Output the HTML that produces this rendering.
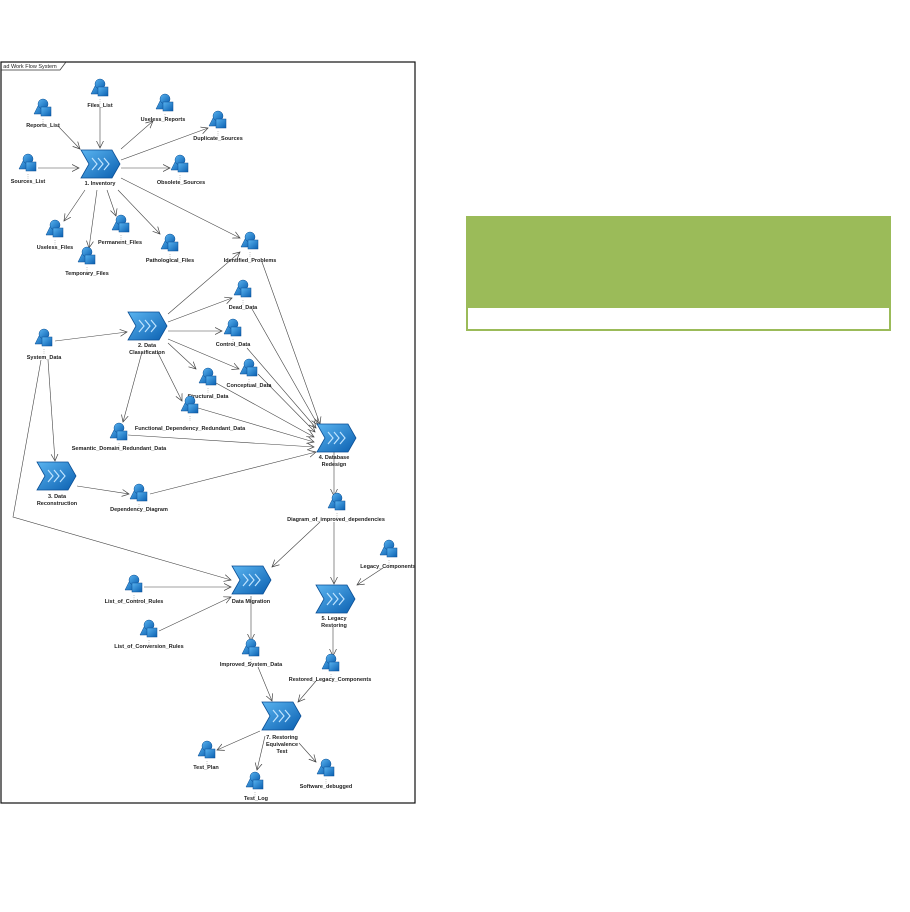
<!DOCTYPE html>
<html><head><meta charset="utf-8"><style>
html,body{margin:0;padding:0;background:#fff;width:910px;height:912px;overflow:hidden}
svg{position:absolute;left:0;top:0}
text{font-family:"Liberation Sans",sans-serif;font-size:5.5px;font-weight:bold;fill:#222;text-anchor:middle}
</style></head><body>
<svg width="910" height="912" viewBox="0 0 910 912">
<defs>
<linearGradient id="bg" x1="0" y1="0" x2="1" y2="1"><stop offset="0" stop-color="#5ab4f0"/><stop offset="1" stop-color="#0a5fb0"/></linearGradient>
<marker id="ar" markerWidth="8" markerHeight="8" refX="7" refY="4" orient="auto" markerUnits="userSpaceOnUse"><path d="M0,0.5 L7,4 L0,7.5" fill="none" stroke="#444" stroke-width="0.7"/></marker>
<g id="ic"><polygon points="-9,6 -3,-6 3,6" fill="url(#bg)" stroke="#0b4f95" stroke-width="0.5"/><circle cx="0" cy="-4" r="5" fill="url(#bg)" stroke="#0b4f95" stroke-width="0.5"/><rect x="-2" y="-1" width="10" height="9" fill="url(#bg)" stroke="#0b4f95" stroke-width="0.5"/><line x1="0" y1="11" x2="0" y2="16" stroke="#999" stroke-width="0.6" stroke-dasharray="1,1.2"/></g>
<g id="ch"><polygon points="-19,-14 12,-14 20,0 12,14 -19,14 -11,0" fill="url(#bg)" stroke="#0b4f95" stroke-width="0.8"/><path d="M-8,-6 L-3,0 L-8,6 M-2,-6 L3,0 L-2,6 M4,-6 L9,0 L4,6" fill="none" stroke="#bfe4ff" stroke-width="1.2"/></g>
</defs>
<!-- frame -->
<rect x="1" y="62" width="414" height="741" fill="none" stroke="#111" stroke-width="1.2"/>
<path d="M1,70 L60,70 L66,62" fill="none" stroke="#333" stroke-width="0.7"/>
<text x="30" y="68" style="font-weight:normal;font-size:5.5px">ad Work Flow System</text>
<!-- green box -->
<rect x="466" y="216" width="425" height="115" fill="#9bbb59"/>
<rect x="468" y="308" width="421" height="21" fill="#fff"/>
<!-- edges -->
<g stroke="#444" stroke-width="0.6" fill="none" marker-end="url(#ar)">
<line x1="100" y1="107" x2="100" y2="148"/>
<line x1="58" y1="126" x2="80" y2="149"/>
<line x1="38" y1="168" x2="79" y2="168"/>
<line x1="121" y1="149" x2="153" y2="121"/>
<line x1="121" y1="160" x2="208" y2="128"/>
<line x1="121" y1="168" x2="170" y2="168"/>
<line x1="121" y1="178" x2="240" y2="238"/>
<line x1="85" y1="190" x2="64" y2="221"/>
<line x1="97" y1="190" x2="89" y2="248"/>
<line x1="107" y1="190" x2="116" y2="216"/>
<line x1="118" y1="190" x2="160" y2="234"/>
<line x1="168" y1="314" x2="240" y2="252"/>
<line x1="168" y1="322" x2="232" y2="298"/>
<line x1="168" y1="331" x2="222" y2="331"/>
<line x1="168" y1="339" x2="239" y2="369"/>
<line x1="168" y1="343" x2="196" y2="369"/>
<line x1="158" y1="353" x2="182" y2="401"/>
<line x1="142" y1="352" x2="123" y2="422"/>
<line x1="55" y1="341" x2="127" y2="332"/>
<line x1="48" y1="360" x2="55" y2="461"/>
<polyline points="41,360 13,517 231,580"/>
<line x1="77" y1="486" x2="129" y2="494"/>
<line x1="150" y1="494" x2="316" y2="452"/>
<line x1="128" y1="435" x2="314" y2="447"/>
<line x1="198" y1="408" x2="314" y2="442"/>
<line x1="216" y1="383" x2="314" y2="437"/>
<line x1="258" y1="374" x2="315" y2="432"/>
<line x1="247" y1="348" x2="316" y2="428"/>
<line x1="252" y1="309" x2="318" y2="425"/>
<line x1="262" y1="262" x2="320" y2="424"/>
<line x1="334" y1="452" x2="334" y2="496"/>
<line x1="334" y1="522" x2="334" y2="584"/>
<line x1="320" y1="522" x2="272" y2="567"/>
<line x1="383" y1="568" x2="357" y2="585"/>
<line x1="144" y1="587" x2="231" y2="587"/>
<line x1="159" y1="631" x2="231" y2="597"/>
<line x1="251" y1="596" x2="251" y2="641"/>
<line x1="333" y1="627" x2="333" y2="656"/>
<line x1="258" y1="667" x2="272" y2="701"/>
<line x1="316" y1="681" x2="298" y2="702"/>
<line x1="260" y1="731" x2="217" y2="750"/>
<line x1="265" y1="736" x2="257" y2="770"/>
<line x1="299" y1="743" x2="316" y2="762"/>
</g>
<!-- icons -->
<use href="#ic" x="100" y="88"/><text x="100" y="107">Files_List</text>
<use href="#ic" x="43" y="108"/><text x="43" y="127">Reports_List</text>
<use href="#ic" x="165" y="103"/><text x="163" y="121">Useless_Reports</text>
<use href="#ic" x="218" y="120"/><text x="218" y="140">Duplicate_Sources</text>
<use href="#ic" x="28" y="163"/><text x="28" y="183">Sources_List</text>
<use href="#ic" x="180" y="164"/><text x="181" y="184">Obsolete_Sources</text>
<use href="#ic" x="55" y="229"/><text x="55" y="249">Useless_Files</text>
<use href="#ic" x="87" y="256"/><text x="87" y="275">Temporary_Files</text>
<use href="#ic" x="121" y="224"/><text x="120" y="244">Permanent_Files</text>
<use href="#ic" x="170" y="243"/><text x="170" y="262">Pathological_Files</text>
<use href="#ic" x="250" y="241"/><text x="250" y="262">Identified_Problems</text>
<use href="#ic" x="243" y="289"/><text x="243" y="309">Dead_Data</text>
<use href="#ic" x="233" y="328"/><text x="233" y="346">Control_Data</text>
<use href="#ic" x="249" y="368"/><text x="249" y="387">Conceptual_Data</text>
<use href="#ic" x="208" y="377"/><text x="208" y="398">Structural_Data</text>
<use href="#ic" x="190" y="405"/><text x="190" y="430">Functional_Dependency_Redundant_Data</text>
<use href="#ic" x="119" y="432"/><text x="119" y="450">Semantic_Domain_Redundant_Data</text>
<use href="#ic" x="44" y="338"/><text x="44" y="359">System_Data</text>
<use href="#ic" x="139" y="493"/><text x="139" y="511">Dependency_Diagram</text>
<use href="#ic" x="337" y="502"/><text x="336" y="521">Diagram_of_improved_dependencies</text>
<use href="#ic" x="389" y="549"/><text x="388" y="568">Legacy_Components</text>
<use href="#ic" x="134" y="584"/><text x="134" y="603">List_of_Control_Rules</text>
<use href="#ic" x="149" y="629"/><text x="149" y="648">List_of_Conversion_Rules</text>
<use href="#ic" x="251" y="648"/><text x="251" y="666">Improved_System_Data</text>
<use href="#ic" x="331" y="663"/><text x="330" y="681">Restored_Legacy_Components</text>
<use href="#ic" x="207" y="750"/><text x="206" y="769">Test_Plan</text>
<use href="#ic" x="326" y="768"/><text x="326" y="788">Software_debugged</text>
<use href="#ic" x="255" y="781"/><text x="256" y="800">Test_Log</text>
<!-- chevrons -->
<use href="#ch" x="100" y="164"/><text x="100" y="185">1. Inventory</text>
<use href="#ch" x="147" y="326"/><text x="147" y="347">2. Data</text><text x="147" y="354">Classification</text>
<use href="#ch" x="336" y="438"/><text x="334" y="459">4. Database</text><text x="334" y="466">Redesign</text>
<use href="#ch" x="56" y="476"/><text x="57" y="498">3. Data</text><text x="57" y="505">Reconstruction</text>
<use href="#ch" x="251" y="580"/><text x="251" y="603">Data Migration</text>
<use href="#ch" x="335" y="599"/><text x="334" y="620">5. Legacy</text><text x="334" y="627">Restoring</text>
<use href="#ch" x="281" y="716"/><text x="282" y="739">7. Restoring</text><text x="282" y="746">Equivalence</text><text x="282" y="753">Test</text>
</svg>
</body></html>
